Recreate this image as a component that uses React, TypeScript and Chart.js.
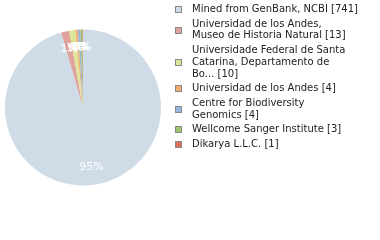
import React, { useEffect, useRef } from "react";
import { Chart, registerables } from "chart.js";

Chart.register(...registerables);

const categories: string[][] = [
  ["Mined from GenBank, NCBI [741]"],
  ["Universidad de los Andes,", "Museo de Historia Natural [13]"],
  ["Universidade Federal de Santa", "Catarina, Departamento de", "Bo... [10]"],
  ["Universidad de los Andes [4]"],
  ["Centre for Biodiversity", "Genomics [4]"],
  ["Wellcome Sanger Institute [3]"],
  ["Dikarya L.L.C. [1]"],
];
const values: number[] = [741, 13, 10, 4, 4, 3, 1];
const colors: string[] = [
  "rgb(207,219,230)",
  "rgb(221,163,156)",
  "rgb(222,229,155)",
  "rgb(240,172,112)",
  "rgb(148,180,218)",
  "rgb(156,196,110)",
  "rgb(220,112,92)",
];

const FONT = '"DejaVu Sans", Verdana, sans-serif';

const labelPlugin = {
  id: "pctLabels",
  afterDatasetsDraw(chart: any) {
    const ctx = chart.ctx;
    const meta = chart.getDatasetMeta(0);
    const data = chart.data.datasets[0].data as number[];
    const total = data.reduce((a, b) => a + b, 0);
    ctx.save();
    ctx.fillStyle = "#ffffff";
    ctx.font = `11px ${FONT}`;
    ctx.textAlign = "center";
    ctx.textBaseline = "middle";
    meta.data.forEach((arc: any, i: number) => {
      const p = arc.getProps(["x", "y", "startAngle", "endAngle", "outerRadius"], true);
      const mid = (p.startAngle + p.endAngle) / 2;
      const r = p.outerRadius * 0.77;
      const pct = Math.floor((data[i] / total) * 100);
      ctx.fillText(pct + "%", p.x + Math.cos(mid) * r, p.y + Math.sin(mid) * r);
    });
    ctx.restore();
  },
};

const legendPlugin = {
  id: "sideLegend",
  afterDraw(chart: any) {
    const ctx = chart.ctx;
    const lineH = 11.7;
    const gap = 3;
    let y = 9.5;
    ctx.save();
    ctx.font = `10px ${FONT}`;
    ctx.textBaseline = "middle";
    ctx.textAlign = "left";
    categories.forEach((lines, i) => {
      const h = (lines.length - 1) * lineH;
      const cy = y + h / 2;
      ctx.fillStyle = colors[i];
      ctx.fillRect(175, Math.round(cy - 3.5), 7, 7);
      ctx.strokeStyle = "#888888";
      ctx.lineWidth = 1;
      ctx.strokeRect(175.5, Math.round(cy - 3.5) + 0.5, 6, 6);
      ctx.fillStyle = "#222222";
      lines.forEach((t, j) => ctx.fillText(t, 192, y + j * lineH));
      y += lines.length * lineH + gap;
    });
    ctx.restore();
  },
};

export default function App() {
  const ref = useRef<HTMLCanvasElement>(null);
  useEffect(() => {
    if (!ref.current) return;
    const chart = new Chart(ref.current, {
      type: "pie",
      data: {
        labels: categories.map((l) => l.join(" ")),
        datasets: [
          {
            data: values,
            backgroundColor: colors,
            borderWidth: 0,
          },
        ],
      },
      options: {
        animation: false,
        responsive: false,
        layout: { padding: { left: 5, top: 29, right: 219, bottom: 54 } },
        plugins: {
          legend: { display: false },
          tooltip: { enabled: false },
        },
      },
      plugins: [labelPlugin, legendPlugin],
    });
    return () => chart.destroy();
  }, []);
  return (
    <div style={{ position: "fixed", left: 0, top: 0, width: 380, height: 240, background: "#fff" }}>
      <canvas ref={ref} width={380} height={240} style={{ width: 380, height: 240 }} />
    </div>
  );
}
